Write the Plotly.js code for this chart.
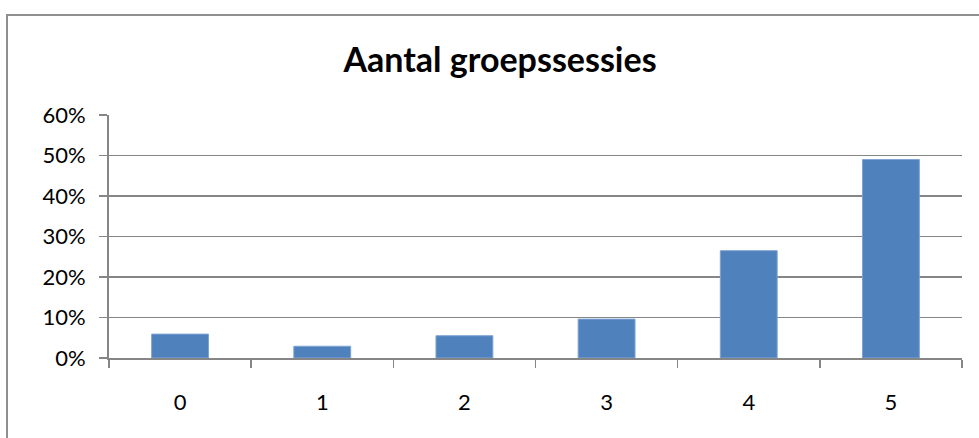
<!DOCTYPE html>
<html>
<head>
<meta charset="utf-8">
<script src="https://cdn.plot.ly/plotly-3.0.1.min.js"></script>
<style>
  html, body { margin: 0; padding: 0; background: #fff; }
  #wrap { position: relative; width: 979px; height: 438px; overflow: hidden; }
  #frame { position: absolute; left: 6px; top: 14px; width: 1200px; height: 600px;
           border: 2px solid #8f8f8f; box-sizing: border-box; }
  #chart { position: absolute; left: 0; top: 0; width: 979px; height: 438px; }
</style>
</head>
<body>
<div id="wrap">
  <div id="frame"></div>
  <div id="chart"></div>
</div>
<script>
const categories = ["0", "1", "2", "3", "4", "5"];
const shares = [0.059, 0.029, 0.055, 0.096, 0.265, 0.490];
const yTickValues = [0, 0.1, 0.2, 0.3, 0.4, 0.5, 0.6];
const chartTitle = "Aantal groepssessies";

const data = [{
  type: "bar",
  x: categories,
  y: shares,
  width: 0.4,
  marker: { color: "#4F81BD", line: { color: "#7ea3d3", width: 1 } },
  hoverinfo: "skip"
}];

const layout = {
  width: 979, height: 438,
  paper_bgcolor: "rgba(0,0,0,0)",
  plot_bgcolor: "rgba(0,0,0,0)",
  margin: { l: 109, r: 17, t: 115, b: 80 },
  showlegend: false,
  font: { family: "Lato, 'Open Sans', sans-serif", color: "#000", size: 22 },
  title: {
    text: "<b>" + chartTitle + "</b>",
    font: { family: "Lato, 'Open Sans', sans-serif", size: 34, color: "#000" },
    x: 500 / 979, xref: "container", xanchor: "center",
    y: 1 - 60 / 438, yref: "container", yanchor: "middle"
  },
  xaxis: {
    type: "category",
    tickson: "boundaries",
    ticks: "outside", ticklen: 8, tickwidth: 1.5, tickcolor: "#868686",
    showline: true, linecolor: "#868686", linewidth: 2,
    showgrid: false, zeroline: false,
    ticklabelstandoff: 24,
    tickfont: { size: 22 }
  },
  yaxis: {
    range: [0, 0.6],
    tickvals: yTickValues,
    tickformat: ".0%",
    ticks: "outside", ticklen: 8, tickwidth: 1.5, tickcolor: "#868686",
    showline: true, linecolor: "#868686", linewidth: 2,
    showgrid: true, gridcolor: "#868686", gridwidth: 1.5,
    zeroline: false,
    ticklabelstandoff: 9,
    tickfont: { size: 22 }
  },
  bargap: 0.6
};

Plotly.newPlot("chart", data, layout, { staticPlot: true, displayModeBar: false });
</script>
</body>
</html>
